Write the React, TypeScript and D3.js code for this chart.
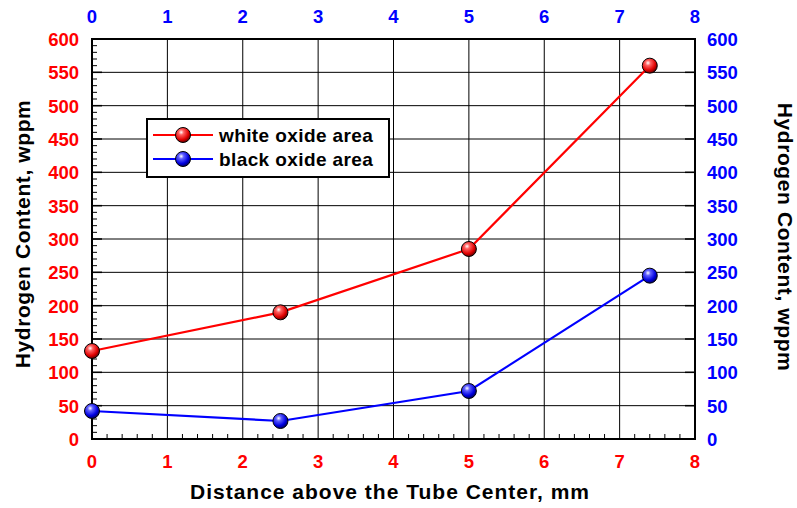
import * as d3 from 'd3';

const distance = [0, 2.5, 5, 7.4];
const whiteOxide = [132, 190, 285, 560];
const blackOxide = [42, 27, 72, 245];
const xTicks = [0, 1, 2, 3, 4, 5, 6, 7, 8];
const yTicks = [0, 50, 100, 150, 200, 250, 300, 350, 400, 450, 500, 550, 600];

const W = 797;
const H = 508;
const m = { left: 92, right: 102, top: 39, bottom: 69 };
const FONT = 'Liberation Sans, Arial, sans-serif';

export default function App() {
  const x = d3.scaleLinear().domain([0, 8]).range([m.left, W - m.right]);
  const y = d3.scaleLinear().domain([0, 600]).range([H - m.bottom, m.top]);
  const line = d3.line<number>().x((_, i) => x(distance[i])).y(d => y(d));

  const minorX = d3.range(0, 8.001, 0.2).filter(v => Math.abs(v - Math.round(v)) > 1e-6);
  const minorY = d3.range(0, 601, 10).filter(v => v % 50 !== 0);

  const series = [
    { name: 'white oxide area', values: whiteOxide, color: '#ff0000', grad: 'gRed' },
    { name: 'black oxide area', values: blackOxide, color: '#0000ff', grad: 'gBlue' },
  ];

  const x0 = x(0), x1 = x(8), y0 = y(0), y1 = y(600);

  return (
    <svg width={W} height={H} style={{ position: 'absolute', left: 0, top: 0 }} fontFamily={FONT} fontWeight="bold">
      <defs>
        <radialGradient id="gRed" cx="0.38" cy="0.32" r="0.7">
          <stop offset="0" stopColor="#ffffff" />
          <stop offset="0.25" stopColor="#ff6060" />
          <stop offset="0.7" stopColor="#e00000" />
          <stop offset="1" stopColor="#600000" />
        </radialGradient>
        <radialGradient id="gBlue" cx="0.38" cy="0.32" r="0.7">
          <stop offset="0" stopColor="#ffffff" />
          <stop offset="0.25" stopColor="#6060ff" />
          <stop offset="0.7" stopColor="#0000e0" />
          <stop offset="1" stopColor="#000060" />
        </radialGradient>
      </defs>
      <rect width={W} height={H} fill="#fff" />

      {/* grid */}
      {xTicks.slice(1, -1).map(t => (
        <line key={'gx' + t} x1={x(t)} x2={x(t)} y1={y1} y2={y0} stroke="#000" strokeWidth={1} />
      ))}
      {yTicks.slice(1, -1).map(t => (
        <line key={'gy' + t} x1={x0} x2={x1} y1={y(t)} y2={y(t)} stroke="#000" strokeWidth={1} />
      ))}

      {/* minor ticks, inward */}
      {minorX.map(t => (
        <line key={'mx' + t} x1={x(t)} x2={x(t)} y1={y0} y2={y0 - 5} stroke="#000" strokeWidth={1} />
      ))}
      {minorY.map(t => (
        <line key={'my' + t} x1={x0} x2={x0 + 5} y1={y(t)} y2={y(t)} stroke="#000" strokeWidth={1} />
      ))}
      {yTicks.map(t => (
        <g key={'mj' + t}>
          <line x1={x0} x2={x0 + 10} y1={y(t)} y2={y(t)} stroke="#000" strokeWidth={1.5} />
          <line x1={x1} x2={x1 - 10} y1={y(t)} y2={y(t)} stroke="#000" strokeWidth={1.5} />
        </g>
      ))}

      <rect x={x0} y={y1} width={x1 - x0} height={y0 - y1} fill="none" stroke="#000" strokeWidth={2} />

      {/* data */}
      {series.map(s => (
        <g key={s.name}>
          <path d={line(s.values) || ''} fill="none" stroke={s.color} strokeWidth={2.2} />
          {s.values.map((v, i) => (
            <circle key={i} cx={x(distance[i])} cy={y(v)} r={7.5} fill={`url(#${s.grad})`} stroke="#000" strokeWidth={1} />
          ))}
        </g>
      ))}

      {/* legend */}
      <g transform="translate(147,119)">
        <rect x={0} y={0} width={242} height={58} fill="#fff" stroke="#000" strokeWidth={2} />
        {series.map((s, i) => (
          <g key={s.name} transform={`translate(0,${16 + i * 24})`}>
            <line x1={6} x2={66} y1={0} y2={0} stroke={s.color} strokeWidth={2.2} />
            <circle cx={36} cy={0} r={7.5} fill={`url(#${s.grad})`} stroke="#000" strokeWidth={1} />
            <text x={72} y={7} fontSize={19} letterSpacing={0.4} fill="#000">{s.name}</text>
          </g>
        ))}
      </g>

      {/* bottom axis labels */}
      {xTicks.map(t => (
        <text key={'bx' + t} x={x(t)} y={y0 + 29} fontSize={18.5} fill="#ff0000" textAnchor="middle">{t}</text>
      ))}
      {/* top axis labels */}
      {xTicks.map(t => (
        <text key={'tx' + t} x={x(t)} y={y1 - 16} fontSize={18.5} fill="#0000ff" textAnchor="middle">{t}</text>
      ))}
      {/* left axis labels */}
      {yTicks.map(t => (
        <text key={'ly' + t} x={x0 - 13} y={y(t) + 7} fontSize={18.5} fill="#ff0000" textAnchor="end">{t}</text>
      ))}
      {/* right axis labels */}
      {yTicks.map(t => (
        <text key={'ry' + t} x={x1 + 12} y={y(t) + 7} fontSize={18.5} fill="#0000ff" textAnchor="start">{t}</text>
      ))}

      <text x={390} y={y0 + 60} fontSize={21} letterSpacing={1} textAnchor="middle" fill="#000">Distance above the Tube Center, mm</text>
      <text transform="translate(30,234) rotate(-90)" fontSize={21} letterSpacing={0.6} textAnchor="middle" fill="#000">Hydrogen Content, wppm</text>
      <text transform="translate(778,237) rotate(90)" fontSize={21} letterSpacing={0.6} textAnchor="middle" fill="#000">Hydrogen Content, wppm</text>
    </svg>
  );
}
